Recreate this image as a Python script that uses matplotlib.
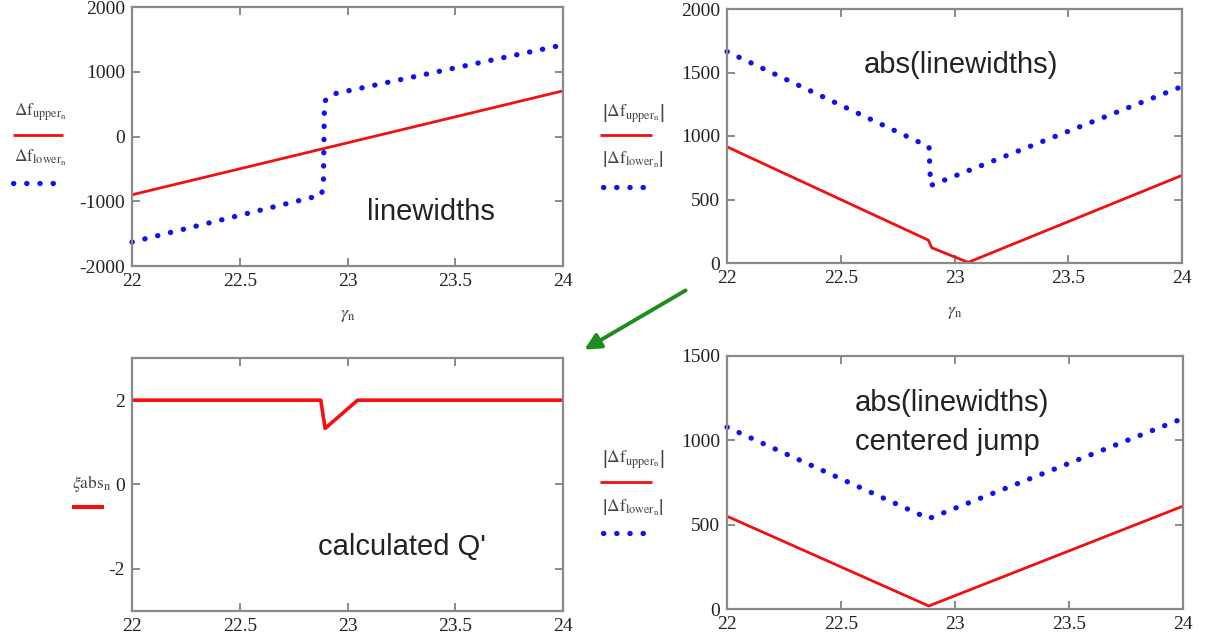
import numpy as np
import matplotlib
matplotlib.use("Agg")
import matplotlib.pyplot as plt
from matplotlib.lines import Line2D
from matplotlib.patches import FancyArrowPatch

plt.rcParams["font.family"] = ["Liberation Serif", "DejaVu Serif"]
plt.rcParams["mathtext.fontset"] = "stix"
plt.rcParams["axes.unicode_minus"] = False

# linewidths (signed), breakpoints of each trace
lwUpperX = [22.0, 24.0]
lwUpperY = [-900, 705]
lwLowerX = [22.0, 22.878, 22.888, 22.893, 22.925, 24.0]
lwLowerY = [-1630, -905, -780, 540, 650, 1415]

# abs(linewidths)
absUpperX = [22.0, 22.885, 22.9, 23.06, 24.0]
absUpperY = [915, 180, 120, 5, 690]
absLowerX = [22.0, 22.888, 22.895, 24.0]
absLowerY = [1665, 915, 610, 1390]

# calculated Q'
qX = [22.0, 22.876, 22.896, 23.047, 24.0]
qY = [2.0, 2.0, 1.33, 2.0, 2.0]

# abs(linewidths), centered jump
cenUpperX = [22.0, 22.885, 24.0]
cenUpperY = [550, 18, 610]
cenLowerX = [22.0, 22.885, 24.0]
cenLowerY = [1078, 536, 1130]

xTicks = [22, 22.5, 23, 23.5, 24]
xTickLabels = ["22", "22.5", "23", "23.5", "24"]

W, H = 1206, 638
fig = plt.figure(figsize=(W / 100, H / 100), dpi=100)

boxColor = "#8a8a8a"
textColor = "#222222"
redCol = "#f01010"
blueCol = "#1010f0"


def px(x, y):
    # pixel position -> figure fraction
    return x / W, 1 - y / H


def makeAx(left, top, right, bottom, ylim, yticks):
    x0, y0 = px(left, bottom)
    ax = fig.add_axes([x0, y0, (right - left) / W, (bottom - top) / H])
    ax.set_xlim(22, 24)
    ax.set_ylim(*ylim)
    ax.set_xticks(xTicks)
    ax.set_xticklabels(xTickLabels)
    ax.set_yticks(yticks)
    for s in ax.spines.values():
        s.set_color(boxColor)
        s.set_linewidth(1.6)
    ax.tick_params(direction="in", length=6, width=1.4, color=boxColor,
                   top=True, right=True, labelsize=14, labelcolor=textColor,
                   pad=5)
    return ax


def dotted(ax, x, y):
    ax.plot(x, y, color=blueCol, lw=3.8, linestyle=(0, (0.05, 2.45)),
            dash_capstyle="round", clip_on=False)


def solid(ax, x, y, lw=2.0):
    ax.plot(x, y, color=redCol, lw=lw, solid_capstyle="butt")


def note(ax, x, y, s):
    ax.text(x, y, s, transform=ax.transAxes, ha="left", va="center",
            fontsize=21, color=textColor, family="Liberation Sans")


def legendLine(x0, x1, y, dots=False, lw=2.0):
    a, b = px(x0, y)
    c, _ = px(x1, y)
    if dots:
        ln = Line2D([a, c], [b, b], transform=fig.transFigure, color=blueCol,
                    lw=3.8, linestyle=(0, (0.05, 2.45)), dash_capstyle="round")
    else:
        ln = Line2D([a, c], [b, b], transform=fig.transFigure, color=redCol,
                    lw=lw, solid_capstyle="butt")
    fig.add_artist(ln)


def legendText(x, y, s, size=12.5):
    fx, fy = px(x, y)
    fig.text(fx, fy, s, ha="left", va="center", fontsize=size, color="#444444")


upperLbl = r"$\mathrm{\Delta f}_{\mathrm{upper}_{\mathrm{n}}}$"
lowerLbl = r"$\mathrm{\Delta f}_{\mathrm{lower}_{\mathrm{n}}}$"
absUpperLbl = r"$\left|\mathrm{\Delta f}_{\mathrm{upper}_{\mathrm{n}}}\right|$"
absLowerLbl = r"$\left|\mathrm{\Delta f}_{\mathrm{lower}_{\mathrm{n}}}\right|$"

# top left: signed linewidths
ax1 = makeAx(132, 7, 563, 266, (-2000, 2000), [-2000, -1000, 0, 1000, 2000])
solid(ax1, lwUpperX, lwUpperY)
dotted(ax1, lwLowerX, lwLowerY)
note(ax1, 0.545, 0.208, "linewidths")
ax1.set_xlabel(r"$\gamma_{\mathrm{n}}$", fontsize=13, color="#444444", labelpad=12)
legendText(14, 112, upperLbl)
legendLine(13, 63, 135)
legendText(14, 158, lowerLbl)
legendLine(13, 53, 183, dots=True)

# top right: abs(linewidths)
ax2 = makeAx(727, 9, 1182, 263, (0, 2000), [0, 500, 1000, 1500, 2000])
solid(ax2, absUpperX, absUpperY)
dotted(ax2, absLowerX, absLowerY)
note(ax2, 0.30, 0.78, "abs(linewidths)")
ax2.set_xlabel(r"$\gamma_{\mathrm{n}}$", fontsize=13, color="#444444", labelpad=12)
legendText(602, 114, absUpperLbl)
legendLine(600, 652, 135)
legendText(602, 160, absLowerLbl)
legendLine(603, 643, 187, dots=True)

# bottom left: calculated Q'
ax3 = makeAx(132, 358, 563, 611, (-3, 3), [-2, 0, 2])
solid(ax3, qX, qY, lw=2.6)
note(ax3, 0.432, 0.253, "calculated Q'")
legendText(72, 484, r"$\xi\mathrm{abs}_{\mathrm{n}}$")
legendLine(72, 104, 507, lw=3.0)

# bottom right: abs(linewidths) with centered jump
ax4 = makeAx(727, 356, 1183, 609, (0, 1500), [0, 500, 1000, 1500])
solid(ax4, cenUpperX, cenUpperY)
dotted(ax4, cenLowerX, cenLowerY)
note(ax4, 0.28, 0.814, "abs(linewidths)")
note(ax4, 0.28, 0.66, "centered jump")
legendText(602, 460, absUpperLbl)
legendLine(600, 652, 482)
legendText(602, 508, absLowerLbl)
legendLine(603, 643, 533, dots=True)

# green arrow from the top-right panel down to the Q' panel
arrow = FancyArrowPatch(px(688, 289), px(582, 351), transform=fig.transFigure,
                        arrowstyle="-|>", mutation_scale=24, color="#1e8c1e",
                        lw=2.8)
fig.add_artist(arrow)

fig.savefig("out.png", dpi=100)
